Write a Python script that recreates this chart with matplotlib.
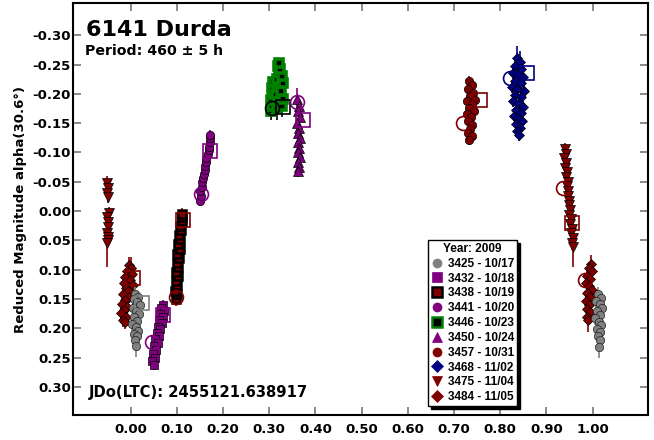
import matplotlib
matplotlib.use("Agg")
import matplotlib.pyplot as plt
from matplotlib.lines import Line2D

plt.rcParams['font.family'] = ['DejaVu Sans']
plt.rcParams['font.weight'] = 'bold'

# ---------------- data (phase, reduced magnitude, error) ----------------
s3425_phase = [0.010, 0.016, 0.006, 0.013, 0.019, 0.004, 0.012, 0.017, 0.008, 0.014, 0.003, 0.011, 0.016, 0.007, 0.013, 0.010, 0.011,
               1.012, 1.018, 1.008, 1.015, 1.020, 1.010, 1.016, 1.006, 1.013, 1.019, 1.009, 1.015, 1.011, 1.016, 1.013]
s3425_mag = [0.142, 0.146, 0.150, 0.155, 0.160, 0.165, 0.170, 0.176, 0.181, 0.187, 0.192, 0.198, 0.204, 0.209, 0.214, 0.220, 0.231,
             0.142, 0.148, 0.153, 0.159, 0.165, 0.171, 0.177, 0.183, 0.189, 0.195, 0.201, 0.207, 0.214, 0.220, 0.232]
s3425_err = [0.012, 0.010, 0.015, 0.010, 0.012, 0.020, 0.010, 0.012, 0.015, 0.010, 0.012, 0.015, 0.010, 0.012, 0.015, 0.010, 0.018,
             0.012, 0.010, 0.015, 0.010, 0.012, 0.015, 0.010, 0.012, 0.015, 0.010, 0.012, 0.015, 0.010, 0.012, 0.018]

s3432_phase = [0.070, 0.066, 0.073, 0.064, 0.069, 0.061, 0.067, 0.059, 0.064, 0.056, 0.061, 0.053, 0.058, 0.050, 0.055, 0.048, 0.052, 0.047, 0.050]
s3432_mag = [0.160, 0.165, 0.170, 0.176, 0.181, 0.186, 0.191, 0.197, 0.202, 0.208, 0.213, 0.219, 0.225, 0.231, 0.237, 0.244, 0.250, 0.256, 0.262]
s3432_err = [0.008, 0.010, 0.008, 0.012, 0.008, 0.010, 0.008, 0.012, 0.010, 0.008, 0.010, 0.012, 0.008, 0.010, 0.012, 0.010, 0.010, 0.012, 0.010]

s3438_phase = [0.098, 0.100, 0.096, 0.101, 0.098, 0.102, 0.099, 0.103, 0.100, 0.104, 0.101, 0.106, 0.103, 0.107, 0.105, 0.109, 0.107, 0.110, 0.111, 0.112]
s3438_mag = [0.150, 0.142, 0.136, 0.127, 0.120, 0.111, 0.104, 0.095, 0.089, 0.080, 0.073, 0.064, 0.057, 0.047, 0.041, 0.032, 0.026, 0.017, 0.011, 0.005]
s3438_err = [0.012, 0.010, 0.008, 0.010, 0.008, 0.010, 0.008, 0.010, 0.008, 0.010, 0.008, 0.010, 0.008, 0.010, 0.008, 0.010, 0.008, 0.010, 0.008, 0.010]

s3441_phase = [0.150, 0.153, 0.151, 0.155, 0.154, 0.157, 0.158, 0.160, 0.161, 0.164, 0.163, 0.167, 0.169, 0.170, 0.171, 0.172, 0.172]
s3441_mag = [-0.018, -0.026, -0.034, -0.041, -0.049, -0.056, -0.063, -0.070, -0.077, -0.084, -0.091, -0.097, -0.104, -0.110, -0.117, -0.124, -0.130]
s3441_err = [0.010, 0.008, 0.008, 0.010, 0.008, 0.008, 0.010, 0.008, 0.008, 0.010, 0.008, 0.008, 0.010, 0.008, 0.008, 0.010, 0.008]

s3446_phase = [0.303, 0.306, 0.304, 0.307, 0.305, 0.308, 0.316, 0.318, 0.315, 0.319, 0.317, 0.320, 0.318, 0.327, 0.330, 0.326, 0.329, 0.327, 0.323, 0.321]
s3446_mag = [-0.170, -0.180, -0.190, -0.200, -0.210, -0.220, -0.175, -0.188, -0.200, -0.212, -0.225, -0.238, -0.248, -0.180, -0.192, -0.205, -0.218, -0.230, -0.242, -0.252]
s3446_err = [0.015, 0.012, 0.010, 0.010, 0.010, 0.010, 0.020, 0.010, 0.010, 0.010, 0.010, 0.010, 0.008, 0.020, 0.010, 0.010, 0.010, 0.010, 0.008, 0.006]

s3450_phase = [0.360, 0.364, 0.362, 0.366, 0.361, 0.365, 0.363, 0.367, 0.362, 0.365, 0.363, 0.366, 0.362, 0.364, 0.363]
s3450_mag = [-0.192, -0.180, -0.170, -0.160, -0.150, -0.142, -0.133, -0.125, -0.117, -0.108, -0.100, -0.092, -0.084, -0.076, -0.068]
s3450_err = [0.018, 0.010, 0.008, 0.010, 0.008, 0.010, 0.008, 0.010, 0.008, 0.010, 0.008, 0.010, 0.008, 0.008, 0.010]

s3457_phase = [0.733, 0.738, 0.730, 0.741, 0.735, 0.745, 0.729, 0.739, 0.733, 0.743, 0.728, 0.737, 0.731, 0.740, 0.734, 0.730, 0.738, 0.733]
s3457_mag = [-0.222, -0.215, -0.208, -0.202, -0.196, -0.190, -0.188, -0.183, -0.176, -0.170, -0.166, -0.160, -0.153, -0.147, -0.140, -0.134, -0.128, -0.122]
s3457_err = [0.008, 0.010, 0.008, 0.010, 0.008, 0.010, 0.008, 0.010, 0.008, 0.010, 0.008, 0.010, 0.008, 0.010, 0.008, 0.010, 0.008, 0.010]

s3468_phase = [0.836, 0.842, 0.832, 0.846, 0.827, 0.838, 0.850, 0.831, 0.844, 0.826, 0.837, 0.852, 0.833, 0.846, 0.828,
               0.840, 0.850, 0.834, 0.845, 0.829, 0.839, 0.848, 0.834, 0.842, 0.837, 0.840]
s3468_mag = [-0.262, -0.255, -0.248, -0.242, -0.236, -0.232, -0.228, -0.222, -0.218, -0.212, -0.208, -0.204, -0.198, -0.194, -0.188,
             -0.184, -0.178, -0.173, -0.168, -0.163, -0.158, -0.154, -0.148, -0.142, -0.136, -0.130]
s3468_err = [0.020, 0.018, 0.010, 0.010, 0.010, 0.010, 0.010, 0.010, 0.010, 0.010, 0.010, 0.010, 0.010, 0.010, 0.010,
             0.010, 0.010, 0.010, 0.010, 0.010, 0.010, 0.010, 0.010, 0.010, 0.012, 0.010]

s3475_phase = [-0.051, -0.049, -0.052, -0.050, -0.048, -0.051, -0.050, -0.049, -0.052, -0.050, -0.049, -0.051,
               0.940, 0.942, 0.939, 0.943, 0.941, 0.944, 0.942, 0.946, 0.944, 0.947, 0.946, 0.949, 0.948, 0.951,
               0.950, 0.953, 0.952, 0.955, 0.954, 0.957, 0.956, 0.958]
s3475_mag = [-0.048, -0.040, -0.030, -0.024, 0.003, 0.010, 0.018, 0.027, 0.037, 0.044, 0.050, 0.055,
             -0.106, -0.098, -0.090, -0.082, -0.074, -0.066, -0.058, -0.050, -0.042, -0.034, -0.026, -0.018, -0.010, -0.002,
             0.006, 0.014, 0.022, 0.030, 0.038, 0.046, 0.054, 0.061]
s3475_err = [0.012, 0.010, 0.008, 0.010, 0.010, 0.012, 0.008, 0.010, 0.012, 0.010, 0.012, 0.040,
             0.010, 0.008, 0.010, 0.008, 0.010, 0.008, 0.010, 0.008, 0.010, 0.008, 0.010, 0.008, 0.010, 0.008,
             0.010, 0.008, 0.010, 0.008, 0.010, 0.008, 0.012, 0.034]

s3484_phase = [-0.004, 0.000, -0.008, 0.003, -0.012, -0.002, -0.015, 0.004, -0.010, -0.006, -0.016, -0.003, -0.012, -0.018,
               -0.008, -0.014, -0.020, -0.011, -0.016, -0.013,
               0.996, 0.992, 0.999, 0.988, 0.995, 0.985, 0.993, 0.998, 0.988, 0.994, 0.986, 0.992, 0.989, 0.994, 0.988, 0.991]
s3484_mag = [0.092, 0.098, 0.102, 0.108, 0.112, 0.118, 0.122, 0.126, 0.131, 0.137, 0.142, 0.147, 0.152, 0.158,
             0.163, 0.168, 0.174, 0.180, 0.186, 0.190,
             0.090, 0.097, 0.103, 0.110, 0.116, 0.122, 0.128, 0.134, 0.140, 0.147, 0.153, 0.160, 0.167, 0.173, 0.180, 0.186]
s3484_err = [0.014, 0.020, 0.010, 0.010, 0.012, 0.010, 0.012, 0.010, 0.012, 0.010, 0.012, 0.010, 0.012, 0.010,
             0.012, 0.010, 0.012, 0.010, 0.012, 0.012,
             0.015, 0.010, 0.012, 0.010, 0.012, 0.010, 0.012, 0.010, 0.012, 0.010, 0.012, 0.010, 0.012, 0.010, 0.012, 0.020]

# session start (open circle) and end (open square) markers
start_phase = [None, 0.046, 0.098, 0.152, 0.306, 0.360, 0.720, 0.821, 0.936, 0.983]
start_mag = [None, 0.223, 0.147, -0.029, -0.176, -0.186, -0.150, -0.227, -0.039, 0.118]
end_phase = [0.024, 0.070, 0.1125, 0.172, 0.330, 0.373, 0.756, 0.858, 0.955, 0.005]
end_mag = [0.157, 0.177, 0.015, -0.102, -0.177, -0.155, -0.189, -0.235, 0.020, 0.114]

session_labels = ['3425 - 10/17', '3432 - 10/18', '3438 - 10/19', '3441 - 10/20', '3446 - 10/23',
                  '3450 - 10/24', '3457 - 10/31', '3468 - 11/02', '3475 - 11/04', '3484 - 11/05']

xtick_vals = [0.0, 0.1, 0.2, 0.3, 0.4, 0.5, 0.6, 0.7, 0.8, 0.9, 1.0]
ytick_vals = [-0.30, -0.25, -0.20, -0.15, -0.10, -0.05, 0.00, 0.05, 0.10, 0.15, 0.20, 0.25, 0.30]

# ---------------- styles ----------------
DR, PU, GR, NV, GN = '#800000', '#800080', '#808080', '#000080', '#008000'
styles = [
    dict(color=GR, marker='o', mfc=GR, mec='#202020', mew=0.5, ms=6),
    dict(color=PU, marker='s', mfc=PU, mec='black', mew=0.5, ms=5.5),
    dict(color=DR, marker='s', mfc=DR, mec='black', mew=1.8, ms=5.5),
    dict(color=PU, marker='o', mfc=PU, mec='black', mew=0.5, ms=6),
    dict(color='black', marker='s', mfc='black', mec=GN, mew=2.6, ms=5.5),
    dict(color=PU, marker='^', mfc=PU, mec='black', mew=0.5, ms=6.5),
    dict(color=DR, marker='o', mfc=DR, mec='black', mew=0.5, ms=6),
    dict(color=NV, marker='D', mfc=NV, mec='black', mew=0.5, ms=5),
    dict(color=DR, marker='v', mfc=DR, mec='black', mew=0.5, ms=6.5),
    dict(color=DR, marker='D', mfc=DR, mec='black', mew=0.5, ms=5),
]
data = [
    (s3425_phase, s3425_mag, s3425_err), (s3432_phase, s3432_mag, s3432_err),
    (s3438_phase, s3438_mag, s3438_err), (s3441_phase, s3441_mag, s3441_err),
    (s3446_phase, s3446_mag, s3446_err), (s3450_phase, s3450_mag, s3450_err),
    (s3457_phase, s3457_mag, s3457_err), (s3468_phase, s3468_mag, s3468_err),
    (s3475_phase, s3475_mag, s3475_err), (s3484_phase, s3484_mag, s3484_err),
]

fig = plt.figure(figsize=(6.54, 4.40), dpi=100)
ax = fig.add_axes([73 / 654, 25 / 440, 575 / 654, 412 / 440])

for i in reversed(range(len(data))):
    ph, mg, er = data[i]
    st = styles[i]
    ax.errorbar(ph, mg, yerr=er, fmt='none', ecolor=st['color'], elinewidth=1.2, capsize=0, zorder=2 + 0.1 * (10 - i))
    ax.plot(ph, mg, ls='none', marker=st['marker'], mfc=st['mfc'], mec=st['mec'], mew=st['mew'],
            ms=st['ms'], zorder=2.05 + 0.1 * (10 - i))

for i in range(len(data)):
    c = styles[i]['color']
    if start_phase[i] is not None:
        ax.plot([start_phase[i]], [start_mag[i]], ls='none', marker='o', ms=10, mfc='none', mec=c, mew=1.2, zorder=5)
    ax.plot([end_phase[i]], [end_mag[i]], ls='none', marker='s', ms=10, mfc='none', mec=c, mew=1.2, zorder=5)

ax.set_xlim(-0.125, 1.12)
ax.set_ylim(0.348, -0.355)
ax.set_xticks(xtick_vals)
ax.set_xticklabels([f'{v:.2f}' for v in xtick_vals])
ax.set_yticks(ytick_vals)
ax.set_yticklabels([f'{v:.2f}' for v in ytick_vals])
ax.tick_params(axis='both', direction='in', length=6, width=1.3, color='#808080',
               top=True, right=True, labelsize=9.5)
ax.tick_params(axis='x', pad=6)
ax.tick_params(axis='y', pad=1.5)
for lab in ax.get_xticklabels() + ax.get_yticklabels():
    lab.set_fontweight('bold')
for sp in ax.spines.values():
    sp.set_linewidth(1.5)
    sp.set_color('black')

fig.text(21 / 654, 0.523, 'Reduced Magnitude alpha(30.6°)', rotation=90, ha='center', va='center',
         fontsize=9.5, fontweight='bold')
fig.text(86 / 654, (440 - 36) / 440, '6141 Durda', fontsize=16, fontweight='bold', va='baseline')
fig.text(85 / 654, (440 - 55) / 440, 'Period: 460 ± 5 h', fontsize=10.2, fontweight='bold', va='baseline')
fig.text(89 / 654, (440 - 397) / 440, 'JDo(LTC): 2455121.638917', fontsize=10.6, fontweight='bold', va='baseline')

handles = []
for st in styles:
    handles.append(Line2D([], [], ls='none', marker=st['marker'], mfc=st['mfc'],
                          mec=(st['mec'] if st['mew'] > 1 else st['mfc']),
                          mew=(1.8 if st['mew'] > 1 else 0.5), ms=6.5))
leg_font = {'family': 'Liberation Sans', 'weight': 'bold', 'size': 8.5}
leg = fig.legend(handles, session_labels, loc='upper left', bbox_to_anchor=(428 / 654, (440 - 240) / 440),
                 bbox_transform=fig.transFigure, title='Year: 2009',
                 title_fontproperties=leg_font, prop=leg_font,
                 frameon=True, fancybox=False, edgecolor='black', framealpha=1,
                 shadow={'color': 'black', 'alpha': 1, 'ox': 2, 'oy': -2}, borderpad=0.25, labelspacing=0.24,
                 handlelength=1.0, handletextpad=0.45, borderaxespad=0)
leg.get_frame().set_linewidth(1.0)

fig.savefig('out.png', dpi=100)
